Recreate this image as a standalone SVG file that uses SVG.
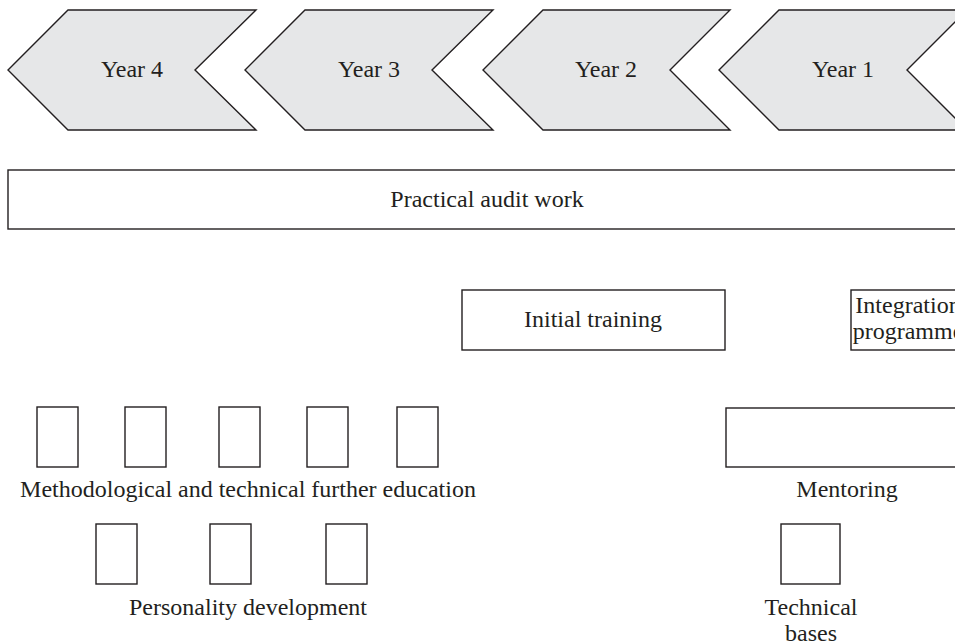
<svg xmlns="http://www.w3.org/2000/svg" width="955" height="643" viewBox="0 0 955 643">
<style>
.chev{fill:#e6e7e8;stroke:#231f20;stroke-width:1.4}
.box{fill:#fff;stroke:#231f20;stroke-width:1.4}
text{font-family:"Liberation Serif","Times New Roman",serif;font-size:24px;fill:#231f20;text-anchor:middle}
</style>
<rect width="955" height="643" fill="#fff"/>
<g id="year4">
<polygon class="chev" points="8,70 68,10 256,10 195,70 256,130 68,130"/>
<text x="132" y="77">Year 4</text>
</g>
<g id="year3">
<polygon class="chev" points="245,70 305,10 493,10 432,70 493,130 305,130"/>
<text x="369" y="77">Year 3</text>
</g>
<g id="year2">
<polygon class="chev" points="483,70 543,10 730,10 670,70 730,130 543,130"/>
<text x="606" y="77">Year 2</text>
</g>
<g id="year1">
<polygon class="chev" points="719,70 779,10 967,10 907,70 967,130 779,130"/>
<text x="843" y="77">Year 1</text>
</g>
<g id="practical">
<rect class="box" x="8" y="170" width="960" height="59"/>
<text x="487" y="207">Practical audit work</text>
</g>
<g id="initial">
<rect class="box" x="462" y="290" width="263" height="60"/>
<text x="593" y="327">Initial training</text>
</g>
<g id="integration">
<rect class="box" x="851" y="290" width="117" height="60"/>
<text x="908" y="313">Integration</text>
<text x="908" y="339">programme</text>
</g>
<g id="mentoring">
<rect class="box" x="726" y="408" width="242" height="59"/>
<text x="847" y="497">Mentoring</text>
</g>
<g id="methodological">
<rect class="box" x="37" y="407" width="41" height="60"/>
<rect class="box" x="125" y="407" width="41" height="60"/>
<rect class="box" x="219" y="407" width="41" height="60"/>
<rect class="box" x="307" y="407" width="41" height="60"/>
<rect class="box" x="397" y="407" width="41" height="60"/>
<text x="248" y="497">Methodological and technical further education</text>
</g>
<g id="personality">
<rect class="box" x="96" y="524" width="41" height="60"/>
<rect class="box" x="210" y="524" width="41" height="60"/>
<rect class="box" x="326" y="524" width="41" height="60"/>
<text x="248" y="615">Personality development</text>
</g>
<g id="technical">
<rect class="box" x="781" y="524" width="59" height="60"/>
<text x="811" y="615">Technical</text>
<text x="811" y="641">bases</text>
</g>
<g id="connectors"></g>
</svg>
